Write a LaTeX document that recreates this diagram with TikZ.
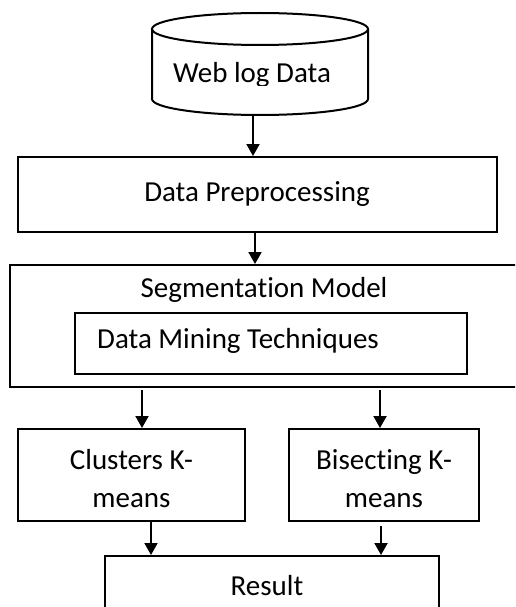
\documentclass[tikz,border=0pt]{standalone}
\usepackage{fontspec}
\setmainfont[Ligatures=NoCommon]{Carlito}
\usetikzlibrary{arrows.meta}
\begin{document}
\begin{tikzpicture}[x=1pt,y=-1pt,
  box/.style={draw,line width=2pt,inner sep=0pt},
  lbl/.style={inner sep=0pt,font=\fontsize{29}{38}\selectfont},
  arr/.style={line width=2pt,-{Triangle[width=13pt,length=12pt]}},
  cyl/.style={line width=2pt}]
\useasboundingbox (0,0) rectangle (515,607);
\clip (0,0) rectangle (515,607);
% cylinder
\draw[cyl] (152,29) -- (152,99) arc (180:0:108 and 16) -- (368,29);
\draw[cyl] (260,29) ellipse (108 and 16);
\coordinate (db) at (253,115);
\begin{scope}
  \clip (152,40) rectangle (368,86);
  \node[lbl,anchor=base] (dbt) at (252,83) {Web log Data};
\end{scope}
% preprocessing
\node[box,minimum width=479pt,minimum height=75pt] (prep) at (257.5,194.5) {};
\node[lbl] (prept) at (257,194) {Data Preprocessing};
% segmentation
\node[box,minimum width=520pt,minimum height=122pt] (seg) at (270,326) {};
\node[lbl] (segt) at (264,290) {Segmentation Model};
\node[box,minimum width=392pt,minimum height=61pt] (dm) at (271,343.5) {};
\node[lbl,anchor=west] (dmt) at (97,341) {Data Mining Techniques};
% algorithms
\node[box,minimum width=227pt,minimum height=92pt] (clus) at (131.5,475) {};
\node[lbl,align=center] (clust) at (131.5,479) {Clusters K-\\means};
\node[box,minimum width=190pt,minimum height=92pt] (bis) at (384,475) {};
\node[lbl,align=center] (bist) at (384,479) {Bisecting K-\\means};
% result
\node[box,minimum width=334pt,minimum height=90pt] (res) at (272,601) {};
\node[lbl] (rest) at (267,586) {Result};
% connectors
\coordinate (c2) at (255,0);
\coordinate (c3a) at (142,0);
\coordinate (c3b) at (380,0);
\coordinate (c4a) at (151,0);
\coordinate (c4b) at (381,0);
\draw[arr] (db) -- (prep.north -| db);
\draw[arr] (prep.south -| c2) -- (seg.north -| c2);
\draw[arr,shorten <=2pt] (seg.south -| c3a) -- (clus.north -| c3a);
\draw[arr,shorten <=2pt] (seg.south -| c3b) -- (bis.north -| c3b);
\draw[arr] (clus.south -| c4a) -- (res.north -| c4a);
\draw[arr,shorten <=4pt] (bis.south -| c4b) -- (res.north -| c4b);
\end{tikzpicture}
\end{document}
